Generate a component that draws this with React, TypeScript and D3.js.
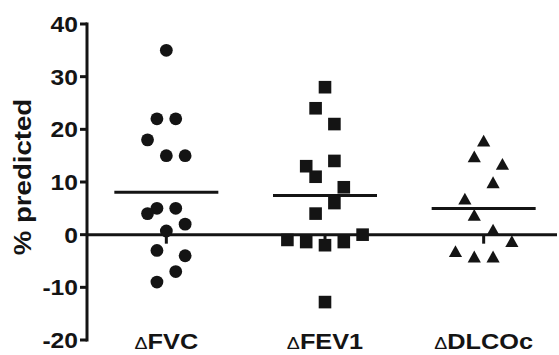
import * as d3 from "d3"

// groups on the x axis
const categories = ["FVC", "FEV1", "DLCOc"]

// % predicted change for each patient
const fvcValues = [35, 22, 22, 18, 15, 15, 5, 4, 5, 2, 0.7, -3, -4, -7, -9]
const fev1Values = [28, 24, 21, 13, 14, 11, 9, 6, 4, 0, -1, -1.4, -2, -1.4, -12.8]
const dlcoValues = [17.8, 14.8, 13.4, 9.9, 6.8, 3.7, 0.9, -1.3, -3.2, -4.2, -4.2]

// scatter column (slot) of each point inside its group
const fvcSlots = [0, -1, 1, -2, 0, 2, -1, -2, 1, 2, 0, -1, 2, 1, -1]
const fev1Slots = [0, -1, 1, -2, 1, -1, 2, 1, -1, 4, -4, -2, 0, 2, 0]
const dlcoSlots = [0, -1, 2, 1, -2, -1, 1, 3, -3, -1, 1]

const yTicks = [-20, -10, 0, 10, 20, 30, 40]

const W = 559
const H = 355
const axisX = 87
const ink = "#141414"
const font = "'Liberation Sans', Arial, sans-serif"

export default function App() {
  const y = d3.scaleLinear().domain([-20, 40]).range([340, 24])
  const x = d3.scalePoint<string>().domain(categories).range([axisX, 563]).padding(0.5)
  const slotW = 9.4

  const groups = [
    { key: "FVC", values: fvcValues, slots: fvcSlots, shape: "circle" },
    { key: "FEV1", values: fev1Values, slots: fev1Slots, shape: "square" },
    { key: "DLCOc", values: dlcoValues, slots: dlcoSlots, shape: "triangle" },
  ]

  const marker = (shape: string, cx: number, cy: number, k: string) => {
    if (shape === "circle") return <circle key={k} cx={cx} cy={cy} r={6.4} fill={ink} />
    if (shape === "square") return <rect key={k} x={cx - 6.3} y={cy - 6.3} width={12.6} height={12.6} fill={ink} />
    const tri = d3.line()([
      [cx, cy - 6.2],
      [cx + 6.6, cy + 5.6],
      [cx - 6.6, cy + 5.6],
    ]) as string
    return <path key={k} d={tri + "Z"} fill={ink} />
  }

  return (
    <svg width={W} height={H} style={{ position: "absolute", left: 0, top: 0, background: "#fff" }}>
      {/* y axis */}
      <line x1={axisX} x2={axisX} y1={y(40) - 1.5} y2={y(-20) + 1.5} stroke={ink} strokeWidth={3} />
      {yTicks.map((t) => (
        <g key={t}>
          <line x1={axisX - 7} x2={axisX} y1={y(t)} y2={y(t)} stroke={ink} strokeWidth={3} />
          <text
            transform={`translate(${axisX - 9},${y(t)}) scale(1.12,1)`}
            dy="0.36em"
            textAnchor="end"
            fontFamily={font}
            fontWeight="bold"
            fontSize={22}
            fill={ink}
          >
            {t}
          </text>
        </g>
      ))}
      <text
        transform={`translate(23,${(y(40) + y(-20)) / 2 - 5}) rotate(-90) scale(1.2,1)`}
        dy="0.36em"
        textAnchor="middle"
        fontFamily={font}
        fontWeight="bold"
        fontSize={23}
        fill={ink}
      >
        % predicted
      </text>

      {/* x axis at zero */}
      <line x1={axisX} x2={W - 2} y1={y(0)} y2={y(0)} stroke={ink} strokeWidth={3} />
      {categories.map((c) => (
        <g key={c}>
          <line x1={x(c)} x2={x(c)} y1={y(0)} y2={y(0) + 9} stroke={ink} strokeWidth={3} />
          <text
            transform={`translate(${x(c)},349) scale(1.15,1)`}
            textAnchor="middle"
            fontFamily={font}
            fontWeight="bold"
            fontSize={22}
            fill={ink}
          >
            <tspan fontSize={17} fontWeight="normal">Δ</tspan>
            {c}
          </text>
        </g>
      ))}

      {/* points and means */}
      {groups.map((g) => {
        const cx = x(g.key) as number
        const m = d3.mean(g.values) as number
        return (
          <g key={g.key}>
            {g.values.map((v, i) => marker(g.shape, cx + g.slots[i] * slotW, y(v), g.key + i))}
            <line x1={cx - 52} x2={cx + 52} y1={y(m)} y2={y(m)} stroke={ink} strokeWidth={3} />
          </g>
        )
      })}
    </svg>
  )
}
